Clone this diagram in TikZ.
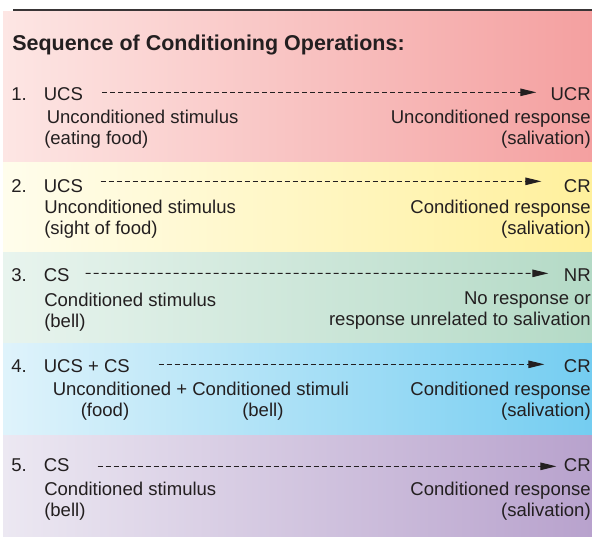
\documentclass[tikz,border=0pt]{standalone}
\usepackage{fontspec}
\setmainfont{Liberation Sans}
\usepackage{tikz}
\usetikzlibrary{arrows.meta,calc}
\definecolor{inkgray}{HTML}{231F20}
\definecolor{pinkL}{HTML}{FDE6E4}
\definecolor{pinkR}{HTML}{F4A0A0}
\definecolor{yellowL}{HTML}{FFFDEC}
\definecolor{yellowR}{HTML}{FFF09C}
\definecolor{greenL}{HTML}{E8F4EE}
\definecolor{greenR}{HTML}{B4DAC6}
\definecolor{blueL}{HTML}{DFF3FB}
\definecolor{blueR}{HTML}{74CDF1}
\definecolor{purpleL}{HTML}{ECE8F2}
\definecolor{purpleR}{HTML}{B8A2CD}

\begin{document}
\begin{tikzpicture}[x=0.75pt,y=-0.75pt,
    font=\fontsize{13.9}{16}\selectfont,
    txt/.style={inner sep=0pt,text=inkgray},
    lft/.style={txt,anchor=base west},
    rgt/.style={txt,anchor=base east},
    flow/.style={draw=inkgray,line width=0.75pt,dash pattern=on 3.75pt off 2.25pt,
      -{Triangle[length=12pt,width=5.6pt]}}]
        \useasboundingbox (0,0) rectangle (592,536);
        \foreach \t/\b/\lc/\rc in {11/162/pinkL/pinkR,162/252/yellowL/yellowR,
            252/343/greenL/greenR,343/435/blueL/blueR,435/536/purpleL/purpleR}{
          \shade[left color=\lc,right color=\rc] (3,\t) rectangle (592,\b);
        }
        \draw[inkgray!90,line width=1.5pt] (13,10)--(592,10);
        \node[lft,font=\bfseries\fontsize{16.1}{19}\selectfont] (title) at (12,50) {Sequence of Conditioning Operations:};

        % 1
        \node[lft] (n1) at (11,100) {1.};
        \node[lft] (s1) at (43.5,100) {UCS};
        \node[lft] (s1a) at (46.5,123) {Unconditioned stimulus};
        \node[lft] (s1b) at (44,144) {(eating food)};
        \node[rgt] (r1) at (591,100) {UCR};
        \node[rgt] (r1a) at (591,123) {Unconditioned response};
        \node[rgt] (r1b) at (591,144) {(salivation)};
        \draw[flow] ($(s1.east)+(19,-1.3)$) -- ($(r1.west)+(-14,-1.3)$);

        % 2
        \node[lft] (n2) at (11,192) {2.};
        \node[lft] (s2) at (43.5,192) {UCS};
        \node[lft] (s2a) at (44,213) {Unconditioned stimulus};
        \node[lft] (s2b) at (44,234) {(sight of food)};
        \node[rgt] (r2) at (591,192) {CR};
        \node[rgt] (r2a) at (591,213) {Conditioned response};
        \node[rgt] (r2b) at (591,234) {(salivation)};
        \draw[flow] ($(s2.east)+(17.4,-4.3)$) -- ($(r2.west)+(-22.3,-4.3)$);

        % 3
        \node[lft] (n3) at (11,281) {3.};
        \node[lft] (s3) at (43.5,281) {CS};
        \node[lft] (s3a) at (44,306) {Conditioned stimulus};
        \node[lft] (s3b) at (44,327) {(bell)};
        \node[rgt] (r3) at (591,281) {NR};
        \node[rgt] (r3a) at (591,304) {No response or};
        \node[rgt] (r3b) at (591,325) {response unrelated to salivation};
        \draw[flow] ($(s3.east)+(15.8,-1.3)$) -- ($(r3.west)+(-15.3,-1.3)$);

        % 4
        \node[lft] (n4) at (11,372) {4.};
        \node[lft] (s4) at (43.5,372) {UCS + CS};
        \node[lft] (s4a) at (52.5,395) {Unconditioned + Conditioned stimuli};
        \node[lft] (s4b) at (80.5,416) {(food)};
        \node[lft] (s4c) at (242,416) {(bell)};
        \node[rgt] (r4) at (591,372) {CR};
        \node[rgt] (r4a) at (591,395) {Conditioned response};
        \node[rgt] (r4b) at (591,416) {(salivation)};
        \draw[flow] ($(s4.east)+(28.7,-1.3)$) -- ($(r4.west)+(-19.3,-1.3)$);

        % 5
        \node[lft] (n5) at (11,471) {5.};
        \node[lft] (s5) at (43.5,471) {CS};
        \node[lft] (s5a) at (44,495) {Conditioned stimulus};
        \node[lft] (s5b) at (44,516) {(bell)};
        \node[rgt] (r5) at (591,471) {CR};
        \node[rgt] (r5a) at (591,495) {Conditioned response};
        \node[rgt] (r5b) at (591,516) {(salivation)};
        \draw[flow] ($(s5.east)+(27.8,1.7)$) -- ($(r5.west)+(-7.3,1.7)$);
      \end{tikzpicture}
\end{document}
